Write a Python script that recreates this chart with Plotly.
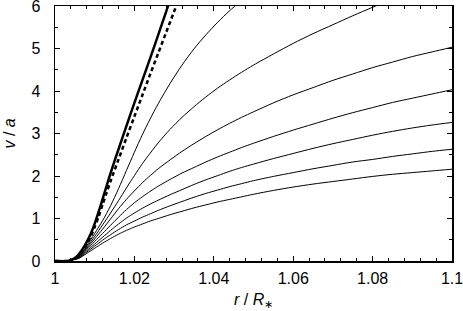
import plotly.graph_objects as go

# ---- data ----
r_thick = [1.000, 1.003, 1.004, 1.005, 1.006, 1.007, 1.008, 1.009, 1.010, 1.011,
           1.012, 1.013, 1.014, 1.016, 1.018, 1.020, 1.022, 1.024, 1.026, 1.028, 1.030]
v_thick = [0.0, 0.0, 0.02, 0.07, 0.16, 0.29, 0.45, 0.64, 0.88, 1.16,
           1.46, 1.77, 2.07, 2.63, 3.18, 3.72, 4.25, 4.78, 5.32, 5.87, 6.43]

r_dash = [1.000, 1.003, 1.004, 1.005, 1.006, 1.007, 1.008, 1.009, 1.010, 1.011,
          1.012, 1.013, 1.014, 1.016, 1.018, 1.020, 1.022, 1.024, 1.026, 1.028, 1.030, 1.032]
v_dash = [0.0, 0.0, 0.02, 0.06, 0.14, 0.26, 0.41, 0.58, 0.8, 1.05,
          1.33, 1.61, 1.88, 2.39, 2.9, 3.4, 3.9, 4.4, 4.89, 5.38, 5.87, 6.36]

r_thin = [1.000, 1.002, 1.004, 1.006, 1.008, 1.010, 1.012, 1.014, 1.016, 1.018,
          1.020, 1.022, 1.024, 1.026, 1.029, 1.032, 1.035, 1.038, 1.041, 1.044,
          1.047, 1.050, 1.055, 1.060, 1.065, 1.070, 1.075, 1.080, 1.085, 1.090,
          1.095, 1.100]

v_t1 = [0, 0, 0.02, 0.12, 0.36, 0.65, 0.95, 1.30, 1.70, 2.13,
        2.56, 2.97, 3.35, 3.70, 4.18, 4.61, 4.99, 5.32, 5.62, 5.89,
        6.13]
v_t2 = [0, 0, 0.02, 0.11, 0.33, 0.58, 0.85, 1.13, 1.42, 1.72,
        2.01, 2.29, 2.54, 2.78, 3.10, 3.38, 3.63, 3.86, 4.07, 4.26,
        4.44, 4.61, 4.87, 5.12, 5.35, 5.56, 5.77, 5.97, 6.16]
v_t3 = [0, 0, 0.02, 0.10, 0.30, 0.52, 0.75, 0.99, 1.23, 1.45,
        1.65, 1.84, 2.01, 2.17, 2.38, 2.58, 2.76, 2.93, 3.09, 3.24,
        3.38, 3.51, 3.72, 3.91, 4.08, 4.25, 4.40, 4.55, 4.68, 4.81,
        4.92, 5.03]
v_t4 = [0, 0, 0.02, 0.09, 0.27, 0.46, 0.65, 0.84, 1.03, 1.21,
        1.37, 1.51, 1.64, 1.76, 1.92, 2.07, 2.20, 2.33, 2.45, 2.56,
        2.67, 2.77, 2.93, 3.08, 3.22, 3.36, 3.49, 3.61, 3.73, 3.83,
        3.93, 4.03]
v_t5 = [0, 0, 0.02, 0.08, 0.24, 0.40, 0.56, 0.72, 0.87, 1.01,
        1.13, 1.24, 1.34, 1.43, 1.56, 1.68, 1.80, 1.91, 2.01, 2.11,
        2.20, 2.28, 2.41, 2.53, 2.65, 2.76, 2.86, 2.96, 3.05, 3.13,
        3.20, 3.26]
v_t6 = [0, 0, 0.02, 0.07, 0.21, 0.35, 0.49, 0.62, 0.74, 0.85,
        0.94, 1.03, 1.11, 1.19, 1.30, 1.40, 1.50, 1.59, 1.67, 1.75,
        1.82, 1.89, 1.99, 2.08, 2.17, 2.25, 2.33, 2.39, 2.46, 2.52,
        2.58, 2.63]
v_t7 = [0, 0, 0.02, 0.06, 0.18, 0.30, 0.42, 0.53, 0.63, 0.72,
        0.80, 0.87, 0.94, 1.00, 1.09, 1.17, 1.25, 1.32, 1.39, 1.45,
        1.51, 1.57, 1.66, 1.74, 1.81, 1.87, 1.93, 1.99, 2.04, 2.08,
        2.12, 2.16]

thin_series = [v_t1, v_t2, v_t3, v_t4, v_t5, v_t6, v_t7]

x_ticks = [1.0, 1.02, 1.04, 1.06, 1.08, 1.1]
x_labels = ["1", "1.02", "1.04", "1.06", "1.08", "1.1"]
y_ticks = [0, 1, 2, 3, 4, 5, 6]
y_labels = ["0", "1", "2", "3", "4", "5", "6"]
x_title = "<i>r</i> / <i>R</i><sub>∗</sub>"
y_title = "<i>v</i> / <i>a</i>"

FONT = "Liberation Sans, Arial, Helvetica, sans-serif"
W, H = 463, 311
ML, MR, MT, MB = 55, 11, 6, 50
PW, PH = W - ML - MR, H - MT - MB

fig = go.Figure()
for vs in thin_series:
    fig.add_trace(go.Scatter(x=r_thin[:len(vs)], y=vs, mode="lines",
                             line=dict(color="black", width=1, shape="spline", smoothing=0.8),
                             showlegend=False, hoverinfo="skip"))
fig.add_trace(go.Scatter(x=r_dash, y=v_dash, mode="lines",
                         line=dict(color="black", width=2.5, dash="4px,3px", shape="spline", smoothing=0.8),
                         showlegend=False, hoverinfo="skip"))
fig.add_trace(go.Scatter(x=r_thick, y=v_thick, mode="lines",
                         line=dict(color="black", width=2.5, shape="spline", smoothing=0.8),
                         showlegend=False, hoverinfo="skip"))

axis_common = dict(
    showgrid=False, zeroline=False, showline=True, linecolor="black", linewidth=1.5,
    mirror="allticks", ticks="inside", ticklen=5, tickwidth=1, tickcolor="black",
    tickfont=dict(family=FONT, size=16, color="black"),
    automargin=False, ticklabeloverflow="allow",
)

fig.update_xaxes(range=[1.0, 1.1], tickvals=x_ticks, ticktext=x_labels,
                 minor=dict(dtick=0.004, ticks="inside", ticklen=3, tickcolor="black", tickwidth=1),
                 ticklabelstandoff=2, **axis_common)
fig.update_yaxes(range=[0, 6], tickvals=y_ticks, ticktext=y_labels,
                 minor=dict(dtick=0.5, ticks="inside", ticklen=3, tickcolor="black", tickwidth=1),
                 ticklabelstandoff=10, **axis_common)

# axis titles placed as annotations (pixel positions converted to paper units)
fig.add_annotation(text=x_title, xref="paper", yref="paper",
                   x=(253.5 - ML) / PW, y=(H - MB - 301) / PH,
                   xanchor="center", yanchor="middle", showarrow=False,
                   font=dict(family=FONT, size=16, color="black"))
fig.add_annotation(text=y_title, xref="paper", yref="paper",
                   x=(9 - ML) / PW, y=0.5, textangle=-90,
                   xanchor="center", yanchor="middle", showarrow=False,
                   font=dict(family=FONT, size=16, color="black"))

fig.update_layout(
    width=W, height=H,
    margin=dict(l=ML, r=MR, t=MT, b=MB),
    paper_bgcolor="white", plot_bgcolor="white",
    font=dict(family=FONT, size=16, color="black"),
)

fig.write_html("out.html", config={"displayModeBar": False, "staticPlot": True},
               post_script="document.body.style.margin='0';document.body.style.padding='0';")
